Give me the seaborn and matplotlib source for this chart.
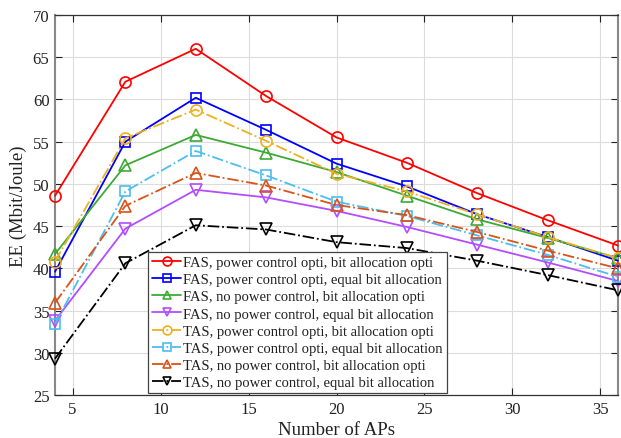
import matplotlib
matplotlib.use("Agg")
import matplotlib.pyplot as plt
import seaborn as sns
import pandas as pd

aps = [4, 8, 12, 16, 20, 24, 28, 32, 36]

fas_pc_ba = [48.6, 62.1, 66.0, 60.4, 55.5, 52.5, 48.9, 45.7, 42.7]
fas_pc_eb = [39.6, 55.0, 60.2, 56.4, 52.4, 49.7, 46.4, 43.7, 40.9]
fas_npc_ba = [41.7, 52.2, 55.8, 53.7, 51.4, 48.6, 45.8, 43.6, 41.2]
fas_npc_eb = [33.8, 44.7, 49.3, 48.4, 46.8, 44.9, 42.8, 40.7, 38.5]
tas_pc_ba = [40.8, 55.4, 58.8, 55.1, 51.2, 49.1, 46.4, 43.7, 41.2]
tas_pc_eb = [33.4, 49.1, 53.9, 51.0, 47.9, 46.2, 43.9, 41.6, 39.0]
tas_npc_ba = [35.9, 47.4, 51.3, 49.8, 47.5, 46.3, 44.3, 42.1, 40.0]
tas_npc_eb = [29.3, 40.6, 45.1, 44.6, 43.1, 42.4, 40.9, 39.2, 37.4]

labels = [
    "FAS, power control opti, bit allocation opti",
    "FAS, power control opti, equal bit allocation",
    "FAS, no power control, bit allocation opti",
    "FAS, no power control, equal bit allocation",
    "TAS, power control opti, bit allocation opti",
    "TAS, power control opti, equal bit allocation",
    "TAS, no power control, bit allocation opti",
    "TAS, no power control, equal bit allocation",
]
series = [fas_pc_ba, fas_pc_eb, fas_npc_ba, fas_npc_eb,
          tas_pc_ba, tas_pc_eb, tas_npc_ba, tas_npc_eb]

colors = ["#FF0000", "#0000FF", "#3DAA35", "#B34DFF",
          "#EDB120", "#4DBEEE", "#D95319", "#000000"]
markers = ["o", "s", "^", "v", "o", "s", "^", "v"]
msizes = [8, 7, 8, 8, 8, 7, 8, 8]
styles = ["-", "-", "-", "-", "-.", "-.", "-.", "-."]

sns.set_theme(style="white")
plt.rcParams["font.family"] = ["Liberation Serif", "DejaVu Serif"]

fig = plt.figure(figsize=(6.21, 4.39), dpi=100)
ax = fig.add_axes([55 / 621, 1 - 396 / 439, 563 / 621, 380 / 439])

for vals, lab, c, m, ms, ls in zip(series, labels, colors, markers, msizes, styles):
    df = pd.DataFrame({"x": aps, "y": vals})
    sns.lineplot(data=df, x="x", y="y", ax=ax, color=c, marker=m,
                 linestyle=ls, linewidth=1.3, markersize=ms,
                 markerfacecolor="none", markeredgecolor=c,
                 markeredgewidth=1.2, label=lab, clip_on=False, zorder=3)

ax.set_xlim(4, 36)
ax.set_ylim(25, 70)
ax.set_xticks([5, 10, 15, 20, 25, 30, 35])
ax.set_yticks([25, 30, 35, 40, 45, 50, 55, 60, 65, 70])
ax.grid(True, color="#dcdcdc", linewidth=0.8)
ax.set_axisbelow(True)
ax.tick_params(direction="in", length=5, width=0.8, labelsize=12,
               top=True, right=True, bottom=True, left=True, colors="#222222",
               labelcolor="#222222", pad=4)
for s in ax.spines.values():
    s.set_visible(True)
    s.set_color("#333333")
    s.set_linewidth(0.9)
ax.spines["left"].set_color("#888888")
ax.spines["left"].set_linewidth(1.5)
ax.spines["right"].set_color("#888888")
ax.spines["right"].set_linewidth(1.5)

ax.set_xlabel("Number of APs", fontsize=13.5, color="#222222", labelpad=3)
ax.set_ylabel("EE (Mbit/Joule)", fontsize=13.5, color="#222222", labelpad=4)

leg = ax.legend(loc="lower center", bbox_to_anchor=(0.430, 0.004),
                borderaxespad=0, fontsize=10.5, frameon=True, fancybox=False,
                framealpha=1, edgecolor="#444444", handlelength=2.0,
                handletextpad=0.1, labelspacing=0.27, borderpad=0.3,
                markerscale=0.8)
leg.get_frame().set_linewidth(0.9)
leg.set_zorder(5)
for t in leg.get_texts():
    t.set_color("#222222")

fig.savefig("out.png", dpi=100)
